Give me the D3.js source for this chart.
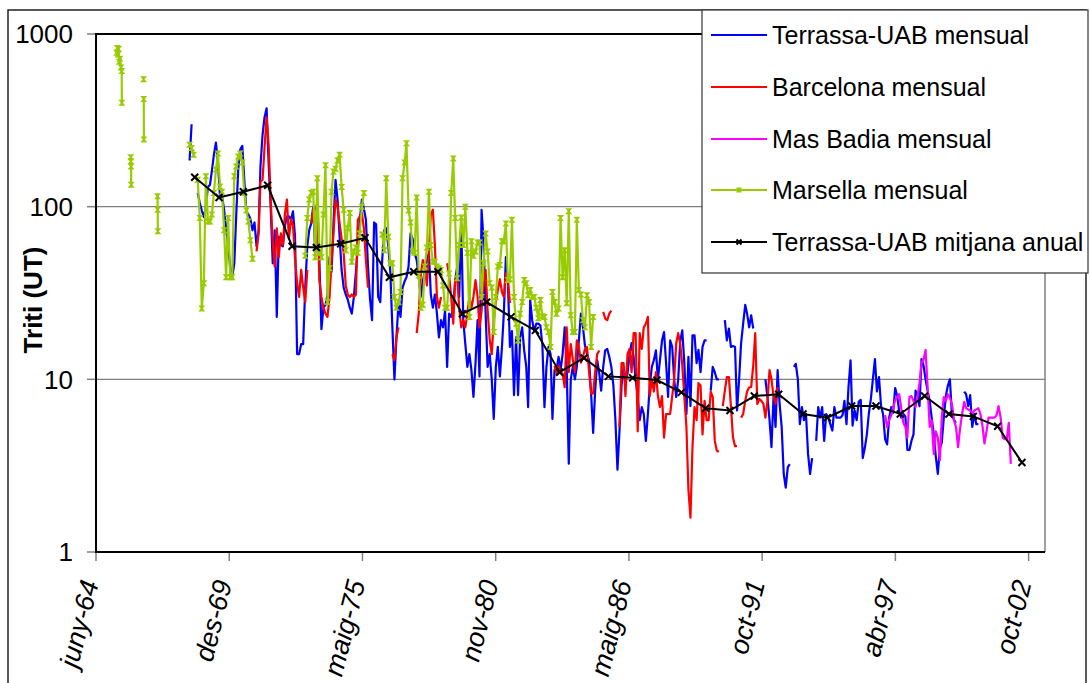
<!DOCTYPE html>
<html>
<head>
<meta charset="utf-8">
<script src="https://cdn.jsdelivr.net/npm/d3@7"></script>
<style>
  body { margin: 0; background: #fff; }
  text { font-family: "Liberation Sans", Arial, sans-serif; fill: #000; }
</style>
</head>
<body>
<svg id="chart" width="1090" height="683"></svg>
<script>
// dades mensuals de triti (UT), valors llegits del grafic
var terrassaStart = "1968-04";
var terrassaMensual = [
  185, 300, null, null, 120, 105, 95, 87, 100,
  130, 134, 160, 200, 235, 180, 115, 115, 96, 75, 59, 45,
  39, 47, 87, 164, 214, 225, 143, 94, 90, 85, 73, 81,
  59, 73, 172, 260, 330, 371, 180, 100, 47, 73, 23, 67,
  60, 59, 77, 88, 88, 84, 94, 67, 14, 14, 16, 16,
  34, 59, 73, 80, 100, 54, 110, 49, 19.5, 26, 27, 31,
  51, 42, 80, 143, 110, 67, 43, 34, 31, 29, 26, 24,
  30, 42, 59, 84, 110, 97, 84, 45, 29, 22, 81, 79,
  30, 28, 49, 73, 75, 59, 42, 20, 10, 17.5, 27.6, 23,
  34, 37, 39, 45, 70, 65, 54, 49, 39, 30, 37, 42,
  49, 54, 31, 26, 31, 24, 17.5, 22, 20, 25, 11.8, 24,
  23, 26, 37, 45, 30, 80, 22, 16, 11.8, 14, 11.3, 7.9,
  12.4, 22, 10.4, 96, 64, 24, 11.8, 14, 10, 5.9, 11.8, 15.4,
  10.4, 15.4, 24, 51, 37, 15.4, 19, 8.1, 17.5, 8.1, 17.5, 20,
  14.7, 11.8, 6.9, 28.8, 22, 19, 21, 21, 20.5, 15.7, 6.9, 11.8,
  15.4, 14, 5.9, 11.3, 11.3, 13.5, 11.3, 14, 20, 11.8, 3.25, 10,
  11.8, 10, 11.8, 16.8, 24, 20, 15.7, 14, 12.9, 8.3, 4.9, 8.6,
  12.9, 10.8, 8.6, 11.8, 14.7, 15, 13.5, 11.8, 9.2, 5.8, 3, 5,
  9.2, 11.8, 10, 10.8, 14, 16.2, 13.5, 10, 7.9, 5.8, 6.9, 6.3,
  4.4, 6.3, 9.2, 11.8, 12.9, 14.7, 10, 12.9, 16.8, 18.8, 12.4, 7.9,
  16.8, 15.4, 10, 7.9, 10, 16.8, 19.2, 12.4, 6.3, 13.5, 7, 18,
  18, 12.4, 14.8, 11, 15.4, 16.8, 16.8, null, 8.6, 11.8, 11, 10,
  10, null, null, 22, 16.8, 19.7, 15.4, 15.6, 15.4, 6.6, 10, 16.2,
  21, 27, 24, 20, 23.5, 19.7, null, null, null, null, null, 10,
  7.9, 5.8, 4.05, 7.9, 5.3, 11.3, 7.2, 5.3, 2.83, 2.36, 3.1, 3.23,
  null, 11.8, 12.3, 10, 5.5, 6.9, 5.8, 6.3, 3.7, 2.83, 3.5, null,
  4.4, 6.9, 6.0, 6.9, 4.4, 6.3, 6.0, 5.5, 5.05, 6.9, 6.0, 6.0,
  6.0, 6.2, 7.5, 5.5, 9, 12.9, 5.4, 6.6, 5.8, 7.4, 7.6, 3.5,
  4.0, 4.8, 6.3, 7.7, 10, 13.1, 8.5, 10.3, 7, 6.3, 4.5, 4.2,
  6, 6.9, 6.4, 8.9, 8, 6.5, 6.0, 6.3, 6.1, 3.9, 3.9, 4.4,
  4.8, 8.6, 8.2, 7, 13.1, 12, 10, 8.6, 7.5, 6, 4.8, 3.6,
  2.83, 4, 4.3, 6, 8, 9.2, 10, 6.3, 5.8, 5.6, null, null,
  null, 8.5, 8.2, 7, 8.1, 5.3, 6.3, 5.5, 5.5
];

var barcelonaStart = "1971-01";
var barcelonaMensual = [
  55, 70, 140, 143, 220, 330, 230, 110, 62, 45, 75, 51,
  70, 60, 90, 110, 65, 85, 78, 50, 36, 30, 43, 34,
  28, 43, null, 80, 96, 96, 105, 37.6, 30, 26, 24, 23,
  30, 49, 70, 110, 100, 80, 65, 54, 35, 31, 30, 31,
  30, 31, 84, 88, 92, 75, 49, 34, null, null, null, null,
  null, null, null, null, null, null, null, 14, 12.9, 17.5, 20, null,
  null, null, null, null, null, null, null, 18.5, 24, 40, 49, 45,
  35, 55, 90, 96, 60, 30, 26, 30, null, null, 47, 40,
  30, 21, 37, 40, 26, 20, 22, 20, 24, 30, 26, 30,
  37.6, 30, 20, 25, 35, 43, 25, 17, 14, 22, 28, 33,
  38, 32, 30, 41, 38, 27.6, null, null, null, null, null, null,
  null, null, null, null, null, null, null, null, null, null, null, null,
  null, null, null, 12, 10.8, 12, 11, 10.8, 9, 20, 11, 16,
  13, 11, 16.8, 15.4, 12.5, 13.5, 15, 15.4, 11, 8.3, 8.3, 11,
  14, 14.7, null, 24.6, 22.5, 22, 24, 25, null, null, null, 5.3,
  12.4, 12.4, 8, 14, 15, 11, 18.5, 18.5, 5, 18.5, 15, 20,
  21, 23, 8, 10, 8.5, 11, 8, 6.9, 8, 4.6, 6.3, 6.3,
  6.3, 8, 10, 16.2, 18.5, 16, 12, 8, 5.3, 2.3, 1.58, 4.05,
  6.9, 5.8, 9.5, 9.2, 4.8, 7.5, 5.8, 5.8, 8.5, 7.9, 4.4, 3.87,
  3.8, null, 7, 8.6, 10.3, 10.3, 7, 4.6, 4.1, 4.1, null, 6,
  6.3, 7.5, 8.5, 9, 9, 12, 18.5, 7.2, 7.7, 7.5, 7.2, 6,
  7.5, 11.3, 10, 8, 7.2, 9
];

var masBadiaStart = "1996-11";
var masBadiaMensual = [
  6.2, 5.3,
  5.8, 6.2, 6.8, 7.6, 7.9, 8.2, 6.8, 5.6, 5.3, 4.6, 7.9, 8,
  7.5, 6.9, 7.9, 9.5, 12.5, 13, 14.8, 9, 5.3, 5.8, 3.7, 5,
  4.6, 3.4, 6, 7.9, 7.5, 8.2, 7.8, 7.2, 5.8, 5.3, 4.05, 5.2,
  6.3, 7.4, 6.8, 6.7, 6.6, 6.3, 6.6, 6.7, 6.8, 6.3, 5.4, 4.25,
  5, 6, 6, 6, 6, 6.2, 7, 6, 4.6, 4.5, 4.5, 5.6,
  3.24
];

// Marsella: primeres mostres irregulars (1965-1966), null talla la linia
var marsellaInicialDates = [
  "1965-04-15", "1965-04-25", "1965-05-05", "1965-05-15", "1965-05-25", "1965-06-05",
  "1965-06-20", "1965-07-01", "1965-07-03", "1965-09-01",
  "1965-11-14", "1965-11-16", "1965-11-18", "1965-11-20", "1966-02-01",
  "1966-05-25", "1966-05-26", "1966-05-28", "1966-05-30", "1966-09-01",
  "1966-12-20", "1966-12-23", "1966-12-26"
];
var marsellaInicial = [
  780, 830, 760, 820, 690, 720,
  640, 610, 400, null,
  193, 183, 171, 134, null,
  547, null, 420, 245, null,
  115, 96, 72
];

var marsellaStart = "1968-04";
var marsellaMensual = [
  228, 219, 200, null, 143, 86, 25.7, 36, 150,
  82, 82, 90, 120, 164, 203, 131, 122, 73, 39, 86, 39,
  39, 150, 171, 195, 203, 180, 120, 95, 82, 64, 50, null,
  null, null, null, null, null, null, null, null, null, null, null, null,
  null, null, null, null, null, null, null, null, null, null, null, null,
  52, 86, 110, 120, 122, 51, 146, 54, 51, 90, 174, 28,
  44, 122, 160, 166, 185, 200, 130, 96, 56, 75, 92, 48,
  55, 58, 54, 70, 100, 120, null, null, null, null, null, null,
  null, null, 69, 56, 146, 67, 47, 47, 30, 26, 28, 32,
  146, 180, 233, 95, 81, 55, 54, 113, 40, 26, 27, 45,
  58, 122, 60, 48, 48, 45, 44, 43, 35, 26, 26, 41,
  120, 190, 86, 38.5, 60, 86.5, 60, 100, 54, 23, 63, 52,
  55, 62, 62, 30, 47, 70, 55, 36, 34, 18.8, 30, 45,
  46, 63, 63, 80, 37.6, 38, 84, 30, 21, 16.8, 24, 28,
  37.6, 36, 30.7, 32.9, 30, 30, 26, 22.6, 28.8, 23.2, 23, 20,
  18.8, 15.4, 32, 28, 24, 25.7, 86, 39, 56, 27.6, 94, 23.5,
  18.8, 18.8, 84, 32.9, 31, 22, 20, 30.7, 28, 15.4, 23
];

// mitjana anual Terrassa-UAB
var anys = d3.range(1968, 2003);
var terrassaAnual = [148, 113, 122, 133, 59, 58, 61, 66, 39, 42, 42, 24, 28, 23, 19.2,
  11.0, 13.3, 10.4, 10.2, 9.9, 8.4, 6.8, 6.6, 8.0, 8.2, 6.3, 6.0, 7.0, 7.0, 6.3,
  8.0, 6.3, 6.1, 5.35, 3.3];

// eix de dates (Excel: unitat principal 2000 dies)
var tickLabels = ["juny-64", "des-69", "maig-75", "nov-80", "maig-86", "oct-91", "abr-97", "oct-02"];
var yTicks = [1, 10, 100, 1000];

function monthly(start, values) {
  var p = start.split("-").map(Number);
  return values.map(function (v, i) {
    return {date: new Date(p[0], p[1] - 1 + i, 15), v: v};
  });
}

var parseDay = d3.timeParse("%Y-%m-%d");
var marsellaPts = marsellaInicialDates.map(function (d, i) {
  return {date: parseDay(d), v: marsellaInicial[i]};
}).concat([{date: new Date(1968, 0, 1), v: null}], monthly(marsellaStart, marsellaMensual));

var series = [
  {name: "Terrassa-UAB mensual", color: "#0000ff", pts: monthly(terrassaStart, terrassaMensual)},
  {name: "Barcelona mensual", color: "#ff0000", pts: monthly(barcelonaStart, barcelonaMensual)},
  {name: "Mas Badia mensual", color: "#ff00ff", pts: monthly(masBadiaStart, masBadiaMensual)},
  {name: "Marsella mensual", color: "#99cc00", pts: marsellaPts, marker: "square"}
];

var svg = d3.select("#chart");
var plotLeft = 96, plotRight = 1045, plotTop = 34, plotBottom = 552;

var t0 = new Date(1964, 5, 10);
var x = d3.scaleTime()
  .domain([t0, d3.timeDay.offset(t0, 14246)])
  .range([plotLeft, plotRight]);
var y = d3.scaleLog().domain([1, 1000]).range([plotBottom, plotTop]);

// marc exterior
svg.append("rect")
  .attr("x", 8).attr("y", 10).attr("width", 1078).attr("height", 700)
  .attr("fill", "#fff").attr("stroke", "#222").attr("stroke-width", 1.5);

// area del grafic
svg.append("rect")
  .attr("x", plotLeft).attr("y", plotTop).attr("width", plotRight - plotLeft).attr("height", plotBottom - plotTop)
  .attr("fill", "#fff");

// linies de quadricula
svg.selectAll("line.grid")
  .data([10, 100])
  .enter().append("line")
  .attr("class", "grid")
  .attr("x1", plotLeft).attr("x2", plotRight)
  .attr("y1", function (d) { return y(d); })
  .attr("y2", function (d) { return y(d); })
  .attr("stroke", "#808080").attr("stroke-width", 1.2);

svg.append("line")
  .attr("x1", plotRight).attr("x2", plotRight).attr("y1", plotTop).attr("y2", plotBottom)
  .attr("stroke", "#808080").attr("stroke-width", 1.5);
svg.append("line")
  .attr("x1", plotLeft).attr("x2", plotRight).attr("y1", plotTop).attr("y2", plotTop)
  .attr("stroke", "#000").attr("stroke-width", 2);

// eix Y
svg.selectAll("line.ytick")
  .data(yTicks)
  .enter().append("line")
  .attr("x1", plotLeft - 9).attr("x2", plotLeft)
  .attr("y1", function (d) { return y(d); })
  .attr("y2", function (d) { return y(d); })
  .attr("stroke", "#808080").attr("stroke-width", 1.5);

svg.selectAll("text.ylab")
  .data(yTicks)
  .enter().append("text")
  .attr("x", 73)
  .attr("y", function (d) { return y(d); })
  .attr("dy", "0.36em")
  .attr("text-anchor", "end")
  .style("font-size", "26px")
  .text(function (d) { return d; });

svg.append("line")
  .attr("x1", plotLeft).attr("x2", plotLeft).attr("y1", plotTop - 1).attr("y2", plotBottom + 1)
  .attr("stroke", "#000").attr("stroke-width", 2);

svg.append("text")
  .attr("transform", "translate(42,300) rotate(-90)")
  .attr("text-anchor", "middle")
  .style("font-size", "26px")
  .style("font-weight", "bold")
  .text("Triti (UT)");

// eix X
var tickDates = tickLabels.map(function (l, i) { return d3.timeDay.offset(t0, i * 2000); });

svg.selectAll("line.xtick")
  .data(tickDates)
  .enter().append("line")
  .attr("x1", function (d) { return x(d); })
  .attr("x2", function (d) { return x(d); })
  .attr("y1", plotBottom).attr("y2", plotBottom + 9)
  .attr("stroke", "#808080").attr("stroke-width", 1.5);

svg.selectAll("text.xlab")
  .data(tickDates)
  .enter().append("text")
  .attr("transform", function (d) { return "translate(" + (x(d) + 3) + "," + (plotBottom + 31) + ") rotate(-76)"; })
  .attr("text-anchor", "end")
  .style("font-size", "27px")
  .style("font-style", "italic")
  .text(function (d, i) { return tickLabels[i]; });

svg.append("line")
  .attr("x1", plotLeft - 1).attr("x2", plotRight).attr("y1", plotBottom).attr("y2", plotBottom)
  .attr("stroke", "#000").attr("stroke-width", 2);

// series
var line = d3.line()
  .defined(function (d) { return d.v != null; })
  .x(function (d) { return x(d.date); })
  .y(function (d) { return y(d.v); });

var hourglass = "M-3.5,-3L3.5,-3L1,0L3.5,3L-3.5,3L-1,0Z";
var cross = "M-3.5,-3.5L3.5,3.5M-3.5,3.5L3.5,-3.5";

series.forEach(function (s) {
  svg.append("path")
    .datum(s.pts)
    .attr("d", line)
    .attr("fill", "none")
    .attr("stroke", s.color)
    .attr("stroke-width", 2.2)
    .attr("stroke-linejoin", "round");
  if (s.marker) {
    svg.selectAll(null)
      .data(s.pts.filter(function (d) { return d.v != null; }))
      .enter().append("path")
      .attr("d", hourglass)
      .attr("transform", function (d) { return "translate(" + x(d.date) + "," + y(d.v) + ")"; })
      .attr("fill", s.color);
  }
});

var anual = anys.map(function (a, i) { return {date: new Date(a, 6, 1), v: terrassaAnual[i]}; });
svg.append("path")
  .datum(anual)
  .attr("d", line)
  .attr("fill", "none")
  .attr("stroke", "#000")
  .attr("stroke-width", 2);
svg.selectAll(null)
  .data(anual)
  .enter().append("path")
  .attr("d", cross)
  .attr("transform", function (d) { return "translate(" + x(d.date) + "," + y(d.v) + ")"; })
  .attr("stroke", "#000")
  .attr("stroke-width", 2);

// llegenda
var legend = svg.append("g");
legend.append("rect")
  .attr("x", 702).attr("y", 10).attr("width", 386).attr("height", 263)
  .attr("fill", "#fff").attr("stroke", "#333").attr("stroke-width", 1.2);

var legendItems = series.concat([{name: "Terrassa-UAB mitjana anual", color: "#000", marker: "cross"}]);
var legendY = [35, 87, 139, 190, 242];

legendItems.forEach(function (s, i) {
  var ly = legendY[i];
  legend.append("line")
    .attr("x1", 711).attr("x2", 767).attr("y1", ly).attr("y2", ly)
    .attr("stroke", s.color).attr("stroke-width", 2.2);
  if (s.marker == "square") {
    legend.append("rect")
      .attr("x", 736.5).attr("y", ly - 2.5).attr("width", 5).attr("height", 5)
      .attr("fill", s.color);
  } else if (s.marker == "cross") {
    legend.append("path")
      .attr("d", "M-2.5,-2.5L2.5,2.5M-2.5,2.5L2.5,-2.5")
      .attr("transform", "translate(739," + ly + ")")
      .attr("stroke", "#000").attr("stroke-width", 2);
  }
  legend.append("text")
    .attr("x", 772).attr("y", ly)
    .attr("dy", "0.36em")
    .style("font-size", "25px")
    .text(s.name);
});
</script>
</body>
</html>
